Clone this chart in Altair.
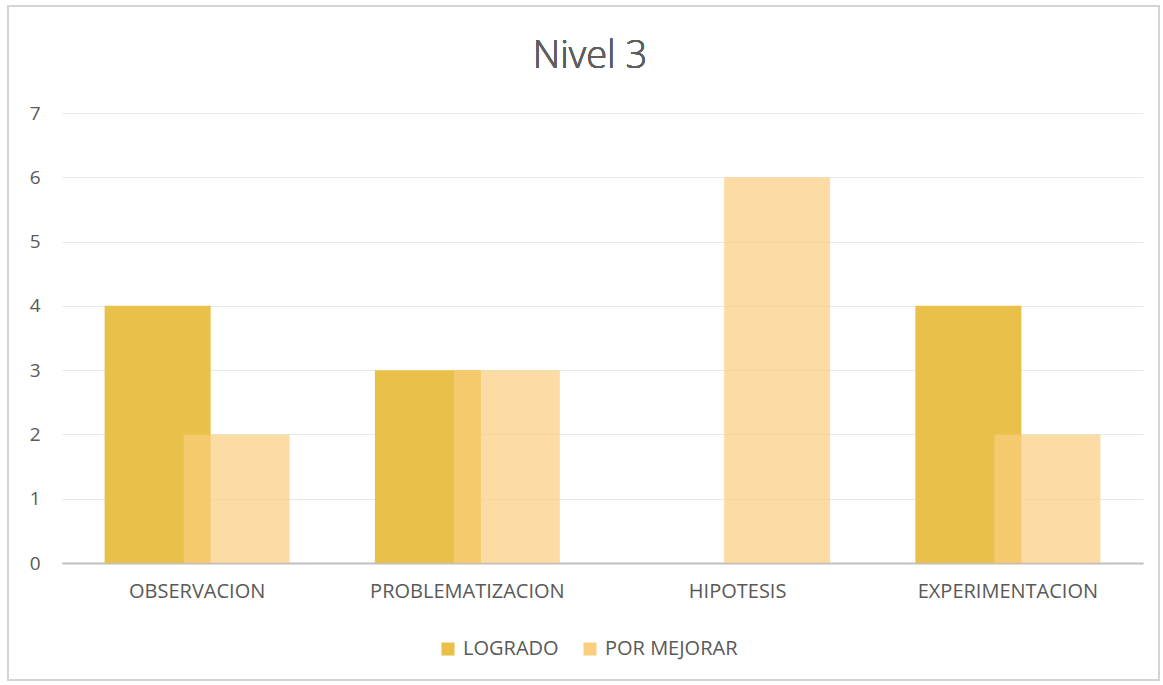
import altair as alt
import pandas as pd

# Series values per stage of the inquiry process
categorias = ["OBSERVACION", "PROBLEMATIZACION", "HIPOTESIS", "EXPERIMENTACION"]
logrado = [4, 3, 0, 4]
por_mejorar = [2, 3, 6, 2]
series = ["LOGRADO", "POR MEJORAR"]
colores = ["#E8C04A", "#FBCD7E"]
ticks_y = [0, 1, 2, 3, 4, 5, 6, 7]
titulo = "Nivel 3"

rows = []
for c, a, b in zip(categorias, logrado, por_mejorar):
    rows.append({"Categoria": c, "Serie": series[0], "Valor": a})
    rows.append({"Categoria": c, "Serie": series[1], "Valor": b})
df = pd.DataFrame(rows)

FONT = "Open Sans"
TEXT = "#595959"

x = alt.X(
    "Categoria:N",
    sort=categorias,
    scale=alt.Scale(paddingInner=0, paddingOuter=0),
    axis=alt.Axis(
        title=None, labelAngle=0, ticks=False, labelPadding=18,
        labelFontSize=20, labelColor=TEXT, labelFont=FONT, labelLimit=300,
        domainColor="#BFBFBF", domainWidth=2, grid=False,
    ),
)
y = alt.Y(
    "Valor:Q",
    scale=alt.Scale(domain=[0, 7], nice=False),
    axis=alt.Axis(
        title=None, values=ticks_y, ticks=False, domain=False, labelPadding=22,
        labelFontSize=19, labelColor=TEXT, labelFont=FONT,
        gridColor="#E9E9E9", gridWidth=1,
    ),
)
color = alt.Color(
    "Serie:N",
    scale=alt.Scale(domain=series, range=colores),
    legend=alt.Legend(
        title=None, orient="none", direction="horizontal",
        legendX=376, legendY=526, symbolType="square", symbolSize=170,
        symbolStrokeWidth=0, labelFontSize=20, labelColor=TEXT, labelFont=FONT,
        labelOffset=5, columnPadding=21, symbolOpacity=1, labelLimit=300,
    ),
)

base = alt.Chart(df)
barras_logrado = base.transform_filter(alt.datum.Serie == series[0]).mark_bar(
    width=106, xOffset=-39.5
).encode(x=x, y=y, color=color)
barras_mejorar = base.transform_filter(alt.datum.Serie == series[1]).mark_bar(
    width=106, xOffset=39.5, opacity=0.7
).encode(x=x, y=y, color=color)

# Light frame around the whole chart
marco = alt.Chart(df).mark_rect(
    fill=None, stroke="#D4D4D4", strokeWidth=1.5
).encode(
    x=alt.value(-54), x2=alt.value(1097), y=alt.value(-107), y2=alt.value(567)
)

# Chart heading, centred over the plot
encabezado = alt.Chart(df).mark_text(
    text=titulo, font=FONT, fontSize=38, fontWeight=300, color="#5F5F5F",
    align="center", baseline="middle",
).encode(x=alt.value(528), y=alt.value(-56))

chart = alt.layer(marco, encabezado, barras_logrado, barras_mejorar).properties(
    width=1081,
    height=450,
    background="white",
    autosize=alt.AutoSizeParams(type="none"),
    padding={"left": 62, "top": 113, "right": 20, "bottom": 122},
).configure_view(stroke=None)

chart.save("out.html", embed_options={"renderer": "svg", "actions": False})
